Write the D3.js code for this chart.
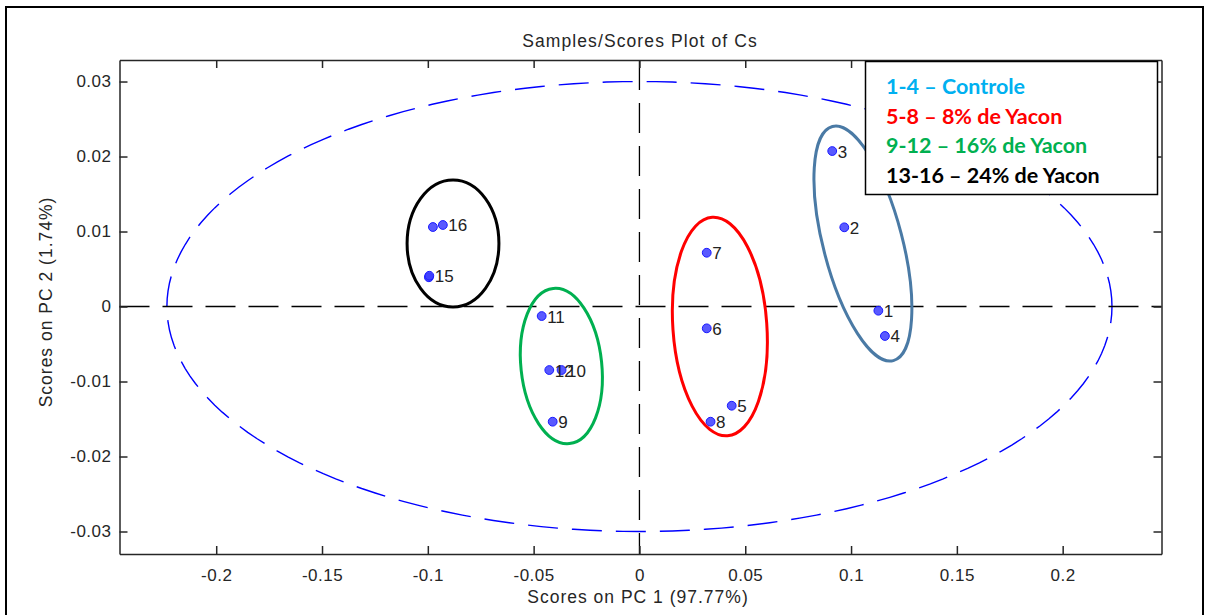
<!DOCTYPE html>
<html>
<head>
<meta charset="utf-8">
<script src="https://cdn.jsdelivr.net/npm/d3@7"></script>
<style>
  html, body { margin: 0; padding: 0; background: #ffffff; }
  svg { display: block; }
</style>
</head>
<body>
<svg id="chart" width="1210" height="615"></svg>
<script>
// PCA scores (PC1 / PC2) for the 16 samples
const sampleIds  = ["1","2","3","4","5","6","7","8","9","10","11","12","13","14","15","16"];
const pc1Scores  = [0.1129, 0.0968, 0.0911, 0.1160, 0.0436, 0.0318, 0.0318, 0.0336,
                    -0.0410, -0.0368, -0.0462, -0.0426, -0.0976, -0.0995, -0.0993, -0.0929];
const pc2Scores  = [-0.00056, 0.01056, 0.02073, -0.00393, -0.01323, -0.00291, 0.00717, -0.01536,
                    -0.01536, -0.00847, -0.00127, -0.00847, 0.0106, 0.0039, 0.0041, 0.01087];
const pointLabels = ["1","2","3","4","5","6","7","8","9","10","11","12","","","15","16"];

// Axis ticks
const xTicks      = [-0.2, -0.15, -0.1, -0.05, 0, 0.05, 0.1, 0.15, 0.2];
const xTickLabels = ["-0.2", "-0.15", "-0.1", "-0.05", "0", "0.05", "0.1", "0.15", "0.2"];
const yTicks      = [-0.03, -0.02, -0.01, 0, 0.01, 0.02, 0.03];
const yTickLabels = ["-0.03", "-0.02", "-0.01", "0", "0.01", "0.02", "0.03"];

// Treatment groups
const groupNames  = ["1-4 \u2013 Controle", "5-8 \u2013 8% de Yacon", "9-12 \u2013 16% de Yacon", "13-16 \u2013 24% de Yacon"];
const groupColors = ["#00b0f0", "#ff0000", "#00b050", "#000000"];
const ringColors  = ["#4a7aa5", "#ff0000", "#00b050", "#000000"];

// Group outlines (centre and semi-axes in score units, tilt in degrees)
const ringCenterX = [0.1056, 0.0380, -0.0369, -0.0881];
const ringCenterY = [0.0084, -0.00267, -0.00793, 0.0084];
const ringRadiusX = [0.0187, 0.0222, 0.0191, 0.0217];
const ringRadiusY = [0.01613, 0.0146, 0.0104, 0.00847];
const ringTilt    = [-14.6, -4, -6, 0];

// Hotelling T2 confidence ellipse semi-axes
const confRadiusX = 0.2233;
const confRadiusY = 0.0300;

const svg = d3.select("#chart");
const plot = { left: 119.5, right: 1161.5, top: 60, bottom: 554 };

const x = d3.scaleLinear().domain([-0.2457, 0.2467]).range([plot.left, plot.right]);
const y = d3.scaleLinear().domain([-0.0330, 0.03287]).range([plot.bottom, plot.top]);

const axisFont = "'Liberation Sans', Arial, sans-serif";
const axisColor = "#262626";

// Outer figure frame
svg.append("rect")
  .attr("x", 6).attr("y", 7).attr("width", 1197).attr("height", 700)
  .attr("fill", "none").attr("stroke", "#000").attr("stroke-width", 2);

// Title
svg.append("text")
  .attr("x", 640).attr("y", 41)
  .attr("text-anchor", "middle").attr("dominant-baseline", "central")
  .attr("font-family", axisFont).attr("font-size", 17.5)
  .attr("letter-spacing", 1.1).attr("fill", axisColor)
  .text("Samples/Scores Plot of Cs");

// Confidence ellipse
const confPts = d3.range(0, 361, 2).map(a => {
  const t = a * Math.PI / 180;
  return [confRadiusX * Math.cos(t), confRadiusY * Math.sin(t)];
});
svg.append("path")
  .attr("d", d3.line().x(d => x(d[0])).y(d => y(d[1]))(confPts))
  .attr("fill", "none").attr("stroke", "#0000ff")
  .attr("stroke-width", 1.4).attr("stroke-dasharray", "30,14");

// Zero lines
svg.append("line")
  .attr("x1", x(0)).attr("x2", x(0)).attr("y1", plot.top).attr("y2", plot.bottom)
  .attr("stroke", "#000").attr("stroke-width", 1.3).attr("stroke-dasharray", "30,13");
svg.append("line")
  .attr("x1", plot.left).attr("x2", plot.right).attr("y1", y(0)).attr("y2", y(0))
  .attr("stroke", "#000").attr("stroke-width", 1.3).attr("stroke-dasharray", "30,13");

// Group outlines
const rings = d3.range(ringCenterX.length);
svg.append("g").selectAll("ellipse").data(rings).join("ellipse")
  .attr("cx", i => x(ringCenterX[i]))
  .attr("cy", i => y(ringCenterY[i]))
  .attr("rx", i => x(ringCenterX[i] + ringRadiusX[i]) - x(ringCenterX[i]))
  .attr("ry", i => y(ringCenterY[i]) - y(ringCenterY[i] + ringRadiusY[i]))
  .attr("transform", i => `rotate(${ringTilt[i]},${x(ringCenterX[i])},${y(ringCenterY[i])})`)
  .attr("fill", "none")
  .attr("stroke", i => ringColors[i])
  .attr("stroke-width", 3);

// Axes (box with inward ticks)
function styleAxis(g) {
  g.selectAll("path.domain").attr("stroke", axisColor).attr("stroke-width", 1.5);
  g.selectAll(".tick line").attr("stroke", axisColor).attr("stroke-width", 1.5);
  g.selectAll(".tick text").attr("fill", axisColor)
    .attr("font-family", axisFont).attr("font-size", 17).attr("letter-spacing", 0.5);
}
svg.append("g").attr("transform", `translate(0,${plot.bottom})`)
  .call(d3.axisBottom(x).tickValues(xTicks).tickFormat((d, i) => xTickLabels[i])
    .tickSizeInner(-8).tickSizeOuter(0).tickPadding(15))
  .call(styleAxis);
svg.append("g").attr("transform", `translate(0,${plot.top})`)
  .call(d3.axisTop(x).tickValues(xTicks).tickFormat("")
    .tickSizeInner(-8).tickSizeOuter(0))
  .call(styleAxis);
svg.append("g").attr("transform", `translate(${plot.left},0)`)
  .call(d3.axisLeft(y).tickValues(yTicks).tickFormat((d, i) => yTickLabels[i])
    .tickSizeInner(-8).tickSizeOuter(0).tickPadding(8))
  .call(styleAxis);
svg.append("g").attr("transform", `translate(${plot.right},0)`)
  .call(d3.axisRight(y).tickValues(yTicks).tickFormat("")
    .tickSizeInner(-8).tickSizeOuter(0))
  .call(styleAxis);

// Axis titles
svg.append("text")
  .attr("x", 638).attr("y", 597)
  .attr("text-anchor", "middle").attr("dominant-baseline", "central")
  .attr("font-family", axisFont).attr("font-size", 17.5)
  .attr("letter-spacing", 1).attr("fill", axisColor)
  .text("Scores on PC 1 (97.77%)");
svg.append("text")
  .attr("transform", "translate(46,302) rotate(-90)")
  .attr("text-anchor", "middle").attr("dominant-baseline", "central")
  .attr("font-family", axisFont).attr("font-size", 17.5)
  .attr("letter-spacing", 1).attr("fill", axisColor)
  .text("Scores on PC 2 (1.74%)");

// Sample points
const idx = d3.range(sampleIds.length);
svg.append("g").selectAll("circle").data(idx).join("circle")
  .attr("cx", i => x(pc1Scores[i]))
  .attr("cy", i => y(pc2Scores[i]))
  .attr("r", 4.4)
  .attr("fill", "rgba(60,60,255,0.85)")
  .attr("stroke", "#1a1aff").attr("stroke-width", 1);

svg.append("g").selectAll("text").data(idx.filter(i => pointLabels[i] !== "")).join("text")
  .attr("x", i => x(pc1Scores[i]) + 5.5)
  .attr("y", i => y(pc2Scores[i]) + 1)
  .attr("dominant-baseline", "central")
  .attr("font-family", axisFont).attr("font-size", 17)
  .attr("fill", "#222")
  .text(i => pointLabels[i]);

// Legend
const legend = svg.append("g");
legend.append("rect")
  .attr("x", 865.5).attr("y", 61.5).attr("width", 292).attr("height", 133)
  .attr("fill", "#fff").attr("stroke", "#000").attr("stroke-width", 1.5);
legend.selectAll("text").data(groupNames).join("text")
  .attr("x", 886)
  .attr("y", (d, i) => 86 + i * 29.7)
  .attr("dominant-baseline", "central")
  .attr("font-family", "Lato, 'Open Sans', sans-serif")
  .attr("font-weight", "bold").attr("font-size", 21.5)
  .attr("fill", (d, i) => groupColors[i])
  .text(d => d);
</script>
</body>
</html>
